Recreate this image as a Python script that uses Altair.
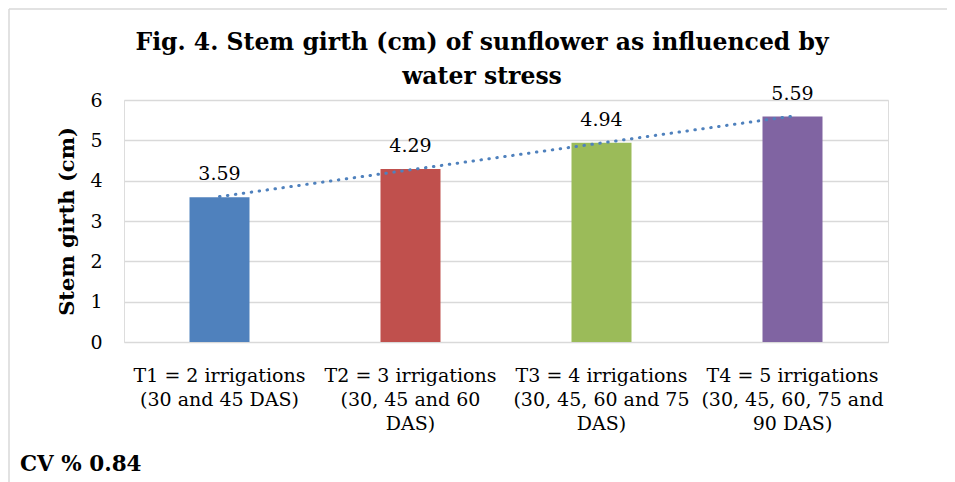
import altair as alt
import pandas as pd

# ---- data ----
categories = [
    "T1 = 2 irrigations|(30 and 45 DAS)",
    "T2 = 3 irrigations|(30, 45 and 60|DAS)",
    "T3 = 4 irrigations|(30, 45, 60 and 75|DAS)",
    "T4 = 5 irrigations|(30, 45, 60, 75 and|90 DAS)",
]
girth = [3.59, 4.29, 4.94, 5.59]
order = [1, 2, 3, 4]
bar_colors = ["#4F81BD", "#C0504D", "#9BBB59", "#8064A2"]
title_line1 = "Fig. 4. Stem girth (cm) of sunflower as influenced by"
title_line2 = "water stress"
y_ticks = [0, 1, 2, 3, 4, 5, 6]
cv_text = "CV % 0.84"

df = pd.DataFrame({"cat": categories, "girth": girth, "idx": order})
one = df[df["idx"] == 1]

FONT = "DejaVu Serif"
W, H = 764, 242

x_enc = alt.X("cat:N", sort=categories, title=None,
              scale=alt.Scale(paddingInner=0, paddingOuter=0),
              axis=alt.Axis(labelExpr="split(datum.label, '|')", labelAngle=0,
                            labelFont=FONT, labelFontSize=19, labelColor="#000000",
                            labelLineHeight=24, labelPadding=24, labelLimit=400,
                            ticks=False, domain=False, grid=False))

y_scale = alt.Scale(domain=[0, 6], nice=False)

bars = alt.Chart(df).mark_bar(size=60).encode(
    x=x_enc,
    y=alt.Y("girth:Q", scale=y_scale, title="Stem girth (cm)",
            axis=alt.Axis(values=y_ticks, format="d", labelFont=FONT, labelFontSize=19,
                          labelColor="#000000", labelPadding=22, ticks=False, domain=False,
                          grid=True, gridColor="#D9D9D9", gridWidth=1.5,
                          titleFont=FONT, titleFontSize=21, titleFontWeight="bold",
                          titleColor="#000000", titlePadding=12)),
    color=alt.Color("cat:N", sort=categories,
                    scale=alt.Scale(domain=categories, range=bar_colors), legend=None),
)

labels = alt.Chart(df).mark_text(font=FONT, fontSize=19, color="#000000",
                                 baseline="alphabetic", dy=-17).encode(
    x=alt.X("cat:N", sort=categories),
    y=alt.Y("girth:Q", scale=y_scale),
    text=alt.Text("girth:Q", format=".2f"),
)

trend = alt.Chart(df).transform_regression("idx", "girth").transform_lookup(
    lookup="idx", from_=alt.LookupData(df, key="idx", fields=["cat"])
).mark_line(color="#4F81BD", strokeWidth=3, strokeDash=[0.5, 7.5], strokeCap="round").encode(
    x=alt.X("cat:N", sort=categories),
    y=alt.Y("girth:Q", scale=y_scale),
)

title1 = alt.Chart(one).mark_text(font=FONT, fontSize=23.5, fontWeight="bold", color="#000000",
                                  align="center", baseline="alphabetic").encode(
    x=alt.value(W / 2 - 24), y=alt.value(-50), text=alt.value(title_line1))
title2 = alt.Chart(one).mark_text(font=FONT, fontSize=23.5, fontWeight="bold", color="#000000",
                                  align="center", baseline="alphabetic").encode(
    x=alt.value(W / 2 - 24), y=alt.value(-16), text=alt.value(title_line2))

cv = alt.Chart(one).mark_text(font=FONT, fontSize=21.5, fontWeight="bold", color="#000000",
                              align="left", baseline="alphabetic").encode(
    x=alt.value(-104), y=alt.value(371), text=alt.value(cv_text))

border_top = alt.Chart(one).mark_rule(color="#D9D9D9", strokeWidth=1.5).encode(
    x=alt.value(-115), x2=alt.value(W + 70), y=alt.value(-91))
border_left = alt.Chart(one).mark_rule(color="#D9D9D9", strokeWidth=1.5).encode(
    x=alt.value(-115), y=alt.value(-91), y2=alt.value(H + 160))

chart = alt.layer(border_top, border_left, bars, trend, labels, title1, title2, cv).properties(
    width=W, height=H,
    autosize=alt.AutoSizeParams(type="none"),
    padding={"left": 116, "top": 92, "right": 59, "bottom": 160},
).configure_view(stroke=None).configure(background="#FFFFFF")

chart.save("out.html", embed_options={"renderer": "svg", "actions": False})
